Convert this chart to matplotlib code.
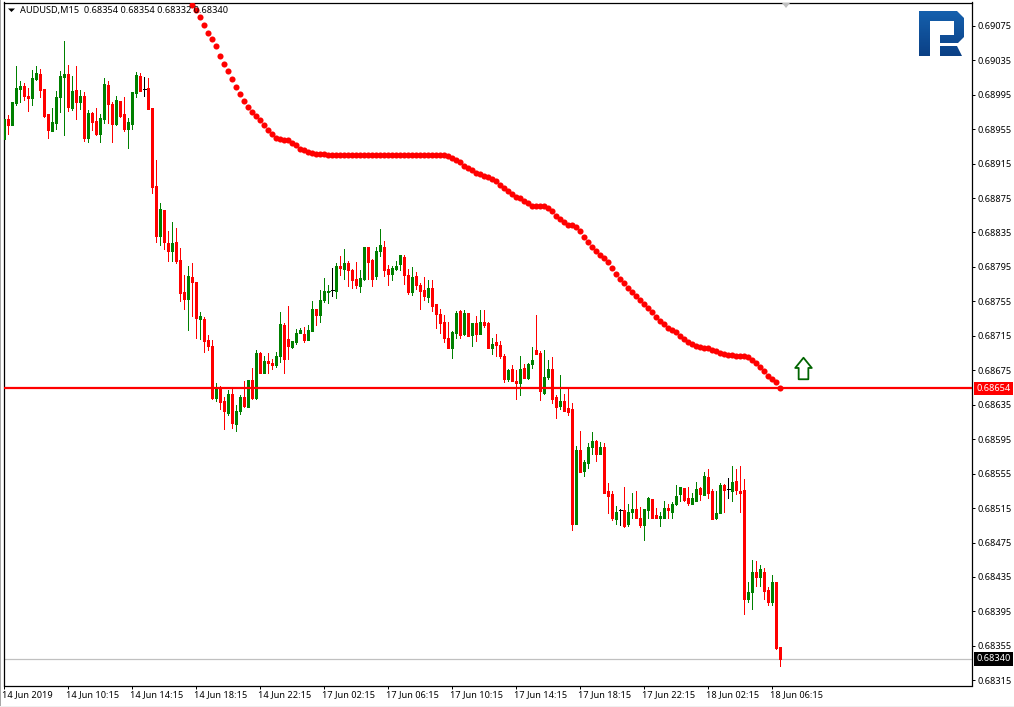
import numpy as np
import matplotlib
matplotlib.use("Agg")
import matplotlib.pyplot as plt
from matplotlib.patches import PathPatch, Rectangle
from matplotlib.path import Path
from matplotlib.transforms import ScaledTranslation

# Candles, in points (1 point = 0.00001)
opens = [
	68944,68967,68960,68985,69001,69005,68994,68991,69013,69019,
	69001,68972,68953,68962,68992,69015,69019,68979,69000,68986,
	68994,68945,68974,68964,68949,68967,69006,68984,68961,68988,
	68972,68955,68961,68997,69017,69001,69003,68979,68889,68831,
	68861,68823,68813,68824,68803,68766,68758,68783,68778,68735,
	68735,68710,68703,68643,68656,68639,68625,68648,68613,68628,
	68644,68632,68664,68643,68695,68672,68686,68684,68681,68692,
	68728,68711,68702,68708,68718,68717,68710,68721,68746,68739,
	68757,68766,68768,68767,68796,68792,68799,68791,68781,68773,
	68781,68818,68803,68784,68813,68818,68792,68787,68793,68798,
	68807,68786,68766,68784,68774,68768,68760,68770,68752,68740,
	68731,68713,68701,68718,68744,68717,68741,68716,68730,68717,
	68731,68730,68701,68708,68704,68692,68665,68676,68663,68660,
	68678,68666,68682,68698,68695,68649,68667,68676,68644,68633,
	68639,68631,68630,68497,68582,68558,68567,68586,68593,68578,
	68586,68535,68531,68502,68513,68513,68496,68510,68514,68504,
	68495,68513,68525,68507,68503,68503,68515,68511,68520,68531,
	68538,68527,68520,68523,68538,68530,68551,68535,68503,68509,
	68542,68537,68535,68546,68535,68536,68409,68417,68441,68435,
	68441,68420,68406,68429,68354]
highs = [
	68968,68971,68986,69028,69011,69008,69003,69024,69028,69025,
	69002,68972,68979,68999,69022,69057,69029,69017,69028,69000,
	68998,68977,68975,68979,68972,69014,69011,68986,68993,68988,
	68992,68968,68998,69021,69020,69015,69014,68979,68919,68869,
	68861,68837,68847,68840,68817,68786,68796,68800,68778,68743,
	68737,68716,68710,68660,68657,68644,68652,68655,68635,68646,
	68663,68664,68678,68698,68696,68691,68695,68688,68696,68743,
	68730,68750,68709,68723,68724,68725,68728,68756,68746,68768,
	68782,68774,68794,68799,68808,68816,68802,68793,68801,68791,
	68818,68818,68804,68818,68839,68825,68797,68796,68802,68809,
	68809,68792,68795,68789,68776,68783,68780,68780,68752,68746,
	68739,68731,68721,68744,68745,68745,68742,68730,68738,68745,
	68745,68731,68713,68717,68709,68694,68677,68681,68675,68691,
	68682,68684,68702,68739,68697,68699,68687,68690,68646,68670,
	68648,68654,68637,68587,68605,68571,68590,68603,68594,68592,
	68590,68544,68535,68517,68514,68540,68520,68532,68535,68516,
	68514,68528,68525,68515,68510,68523,68520,68522,68542,68540,
	68538,68539,68533,68545,68540,68557,68560,68537,68535,68544,
	68543,68550,68564,68560,68564,68549,68429,68455,68453,68449,
	68445,68423,68437,68429,68354]
lows = [
	68941,68949,68960,68983,68986,68989,68976,68983,69012,68992,
	68969,68945,68953,68955,68975,68948,68976,68977,68967,68978,
	68941,68940,68954,68948,68940,68962,68962,68940,68960,68969,
	68953,68933,68955,68992,68999,68994,68978,68881,68824,68820,
	68816,68802,68802,68799,68756,68746,68722,68738,68713,68711,
	68696,68699,68642,68639,68630,68607,68623,68608,68605,68624,
	68632,68632,68642,68642,68672,68672,68672,68677,68679,68685,
	68672,68688,68701,68705,68718,68708,68710,68721,68728,68731,
	68754,68753,68761,68759,68786,68781,68773,68770,68771,68766,
	68780,68781,68773,68781,68808,68784,68774,68780,68791,68791,
	68775,68764,68762,68769,68746,68757,68754,68744,68724,68718,
	68708,68701,68689,68713,68713,68716,68715,68703,68709,68717,
	68725,68701,68694,68692,68689,68661,68662,68663,68642,68646,
	68666,68665,68678,68694,68641,68647,68665,68637,68620,68630,
	68628,68623,68490,68497,68557,68552,68562,68578,68570,68578,
	68532,68509,68501,68496,68495,68493,68494,68504,68503,68493,
	68478,68503,68503,68503,68494,68503,68504,68503,68518,68523,
	68523,68518,68520,68523,68524,68530,68527,68502,68502,68509,
	68511,68527,68523,68531,68511,68392,68406,68398,68424,68424,
	68410,68402,68403,68351,68332]
closes = [
	68967,68960,68986,69003,69005,68993,68991,69014,69020,69000,
	68970,68954,68963,68992,69017,69019,68981,68999,68986,68994,
	68945,68974,68963,68949,68968,69007,68984,68961,68989,68970,
	68955,68963,68998,69018,68999,69001,68978,68888,68831,68862,
	68824,68813,68823,68802,68765,68758,68785,68777,68736,68738,
	68709,68703,68643,68653,68638,68628,68648,68614,68628,68644,
	68634,68664,68643,68695,68672,68686,68684,68681,68692,68729,
	68688,68703,68709,68718,68722,68710,68722,68746,68739,68757,
	68767,68767,68768,68796,68794,68799,68791,68780,68774,68782,
	68818,68801,68781,68813,68820,68791,68787,68794,68796,68809,
	68786,68766,68783,68774,68767,68761,68771,68750,68740,68730,
	68713,68701,68720,68742,68716,68741,68715,68730,68717,68731,
	68728,68701,68705,68704,68691,68665,68675,68663,68660,68677,
	68666,68682,68687,68694,68651,68667,68676,68642,68632,68639,
	68628,68627,68497,68582,68557,68568,68586,68593,68578,68586,
	68533,68529,68503,68510,68513,68494,68510,68514,68503,68495,
	68514,68527,68504,68503,68506,68515,68513,68520,68529,68540,
	68524,68521,68527,68537,68531,68552,68532,68502,68509,68542,
	68536,68537,68545,68536,68533,68409,68417,68441,68435,68444,
	68419,68406,68429,68353,68340]

# Red dotted indicator, starts at candle 47
dot_start = 47
dot_points = [
	69099,69093,69085,69076,69067,69060,69051,69040,69031,69022,69013,69004,68996,
	68988,68981,68975,68970,68965,68960,68954,68949,68945,68944,68942,68942,68939,
	68937,68932,68931,68929,68927,68926,68926,68926,
	68925,68925,68925,68925,68925,68925,68925,68925,68925,68925,
	68925,68925,68925,68925,68925,68925,68925,68925,68925,68925,
	68925,68925,68925,68925,68925,68925,68925,68925,68925,68925,
	68924,68922,68919,68917,68912,68910,68908,68904,68903,68901,68899,68897,68895,
	68890,68887,68883,68880,68876,68875,68872,68869,68866,68866,68866,68866,68863,
	68860,68854,68851,68847,68844,68844,68841,68837,68830,68824,68818,68814,68809,
	68805,68801,68794,68787,68781,68776,68771,68766,68761,68757,68752,68747,68743,
	68737,68732,68729,68724,68722,68719,68715,68711,68708,68705,68703,68702,68701,
	68701,68698,68697,68695,68694,68693,68693,68691,68691,68691,68690,68687,68683,
	68679,68674,68668,68665,68661,68654]

title = "AUDUSD,M15  0.68354 0.68354 0.68332 0.68340"
level_price = 0.68654
bid_price = 0.68340
arrow_index = 199.6
arrow_price = 0.68678

price_ticks = [0.69075, 0.69035, 0.68995, 0.68955, 0.68915, 0.68875, 0.68835, 0.68795, 0.68755, 0.68715,
	0.68675, 0.68635, 0.68595, 0.68555, 0.68515, 0.68475, 0.68435, 0.68395, 0.68355, 0.68315]
time_ticks = [0, 16, 32, 48, 64, 80, 96, 112, 128, 144, 160, 176, 192]
time_labels = ["14 Jun 2019", "14 Jun 10:15", "14 Jun 14:15", "14 Jun 18:15", "14 Jun 22:15",
	"17 Jun 02:15", "17 Jun 06:15", "17 Jun 10:15", "17 Jun 14:15", "17 Jun 18:15",
	"17 Jun 22:15", "18 Jun 02:15", "18 Jun 06:15"]

GREEN = "#008000"
RED = "#ff0000"
W, H = 1014, 707
FONT = "Noto Sans"
FS = 6.6

plt.rcParams["font.family"] = [FONT, "DejaVu Sans"]

o = np.array(opens) / 1e5
h = np.array(highs) / 1e5
l = np.array(lows) / 1e5
c = np.array(closes) / 1e5
idx = np.arange(len(o))
colors = np.where(c > o, GREEN, np.where(c < o, RED, "black"))

fig = plt.figure(figsize=(W / 100, H / 100), dpi=100, facecolor="white")
# frame in pixels: left 3, right 972, top 2, bottom 685
ax = fig.add_axes([3.5 / W, 1 - 685.5 / H, 968.5 / W, 683 / H])
ax.set_xlim(-0.175, 241.95)
ax.set_ylim(0.68309, 0.69102)

# wicks 1 px, bodies 3 px, thin bodies as a flat 1 px stroke
ax.vlines(idx, l, h, colors=colors, lw=0.72, antialiased=False, capstyle="butt", zorder=2)
ax.vlines(idx, np.minimum(o, c), np.maximum(o, c), colors=colors, lw=2.16, antialiased=False, capstyle="butt", zorder=3)
thin = np.abs(c - o) < 0.00002
ax.hlines(c[thin], idx[thin] - 0.375, idx[thin] + 0.375, colors=colors[thin], lw=0.72, antialiased=False, zorder=3)

ax.axhline(bid_price, color="#c0c0c0", lw=0.9, zorder=1)
ax.axhline(level_price, color=RED, lw=1.6, zorder=4)

ax.plot(np.arange(dot_start, dot_start + len(dot_points)), np.array(dot_points) / 1e5, "o",
	color=RED, ms=4.4, mew=0, zorder=5)

arrow = Path([(0, 1), (0.77, 0.05), (0.45, 0.05), (0.45, -1), (-0.45, -1), (-0.45, 0.05), (-0.77, 0.05), (0, 1)], closed=True)
ax.plot([arrow_index], [arrow_price], marker=arrow, ms=15.5, mfc="white", mec="#006400", mew=1.3, ls="none", zorder=5)

ax.yaxis.tick_right()
ax.set_yticks(price_ticks)
ax.set_yticklabels([f"{p:.5f}" for p in price_ticks], fontsize=FS)
ax.set_xticks(time_ticks)
ax.set_xticklabels(time_labels, fontsize=FS, ha="left")
ax.tick_params(axis="y", length=2.2, width=0.72, pad=1.6, colors="black")
ax.tick_params(axis="x", length=2.5, width=0.72, pad=0.8, colors="black")
shift = ScaledTranslation(-1.7 / 100, 0, fig.dpi_scale_trans)
for lbl in ax.get_xticklabels():
	lbl.set_transform(lbl.get_transform() + shift)
for s in ax.spines.values():
	s.set_linewidth(0.9)
	s.set_color("black")

# price tags on the right
for price, bg in [(level_price, RED), (bid_price, "black")]:
	ax.text(1.0042, price, f"{price:.5f}", transform=ax.get_yaxis_transform(), fontsize=FS, color="white",
		va="center", ha="left", clip_on=False, zorder=6,
		bbox=dict(boxstyle="square,pad=0.25", fc=bg, ec="none"))

fig.text(19.5 / W, 1 - 10.5 / H, title, fontsize=FS, color="black", va="center", ha="left", zorder=6)

# overlay in plain pixels for chart furniture
px = fig.add_axes([0, 0, 1, 1], facecolor="none")
px.set_xlim(0, W)
px.set_ylim(H, 0)
px.axis("off")
px.fill([8, 15, 11.5], [8.5, 8.5, 12], color="black", lw=0)
px.fill([782, 790, 786], [3, 3, 8], color="#c0c0c0", lw=0)
px.add_patch(Rectangle((0, 0), 1, H, fc="#a8a8a8", ec="none"))
px.add_patch(Rectangle((0, 705.5), W, 2, fc="#f0f0f0", ec="none"))

# logo
logo_v = [(919, 11), (957, 11), (964, 18), (964, 37), (958, 43), (940, 43), (940, 35), (954, 35), (954, 21),
	(930, 21), (930, 56), (919, 56), (919, 11),
	(940, 46), (957, 46), (962, 56), (940, 56), (940, 46)]
logo_c = [Path.MOVETO] + [Path.LINETO] * 11 + [Path.CLOSEPOLY] + [Path.MOVETO] + [Path.LINETO] * 3 + [Path.CLOSEPOLY]
patch = PathPatch(Path(logo_v, logo_c), fc="none", ec="none", transform=px.transData)
px.add_patch(patch)
grad = np.linspace(0, 1, 64).reshape(-1, 1)
shade = matplotlib.colors.LinearSegmentedColormap.from_list("logo", ["#1560ad", "#0b4085"])
im = px.imshow(grad, extent=(919, 965, 56, 11), cmap=shade, aspect="auto", zorder=2)
im.set_clip_path(patch)
px.set_xlim(0, W)
px.set_ylim(H, 0)

fig.savefig("out.png", dpi=100)
